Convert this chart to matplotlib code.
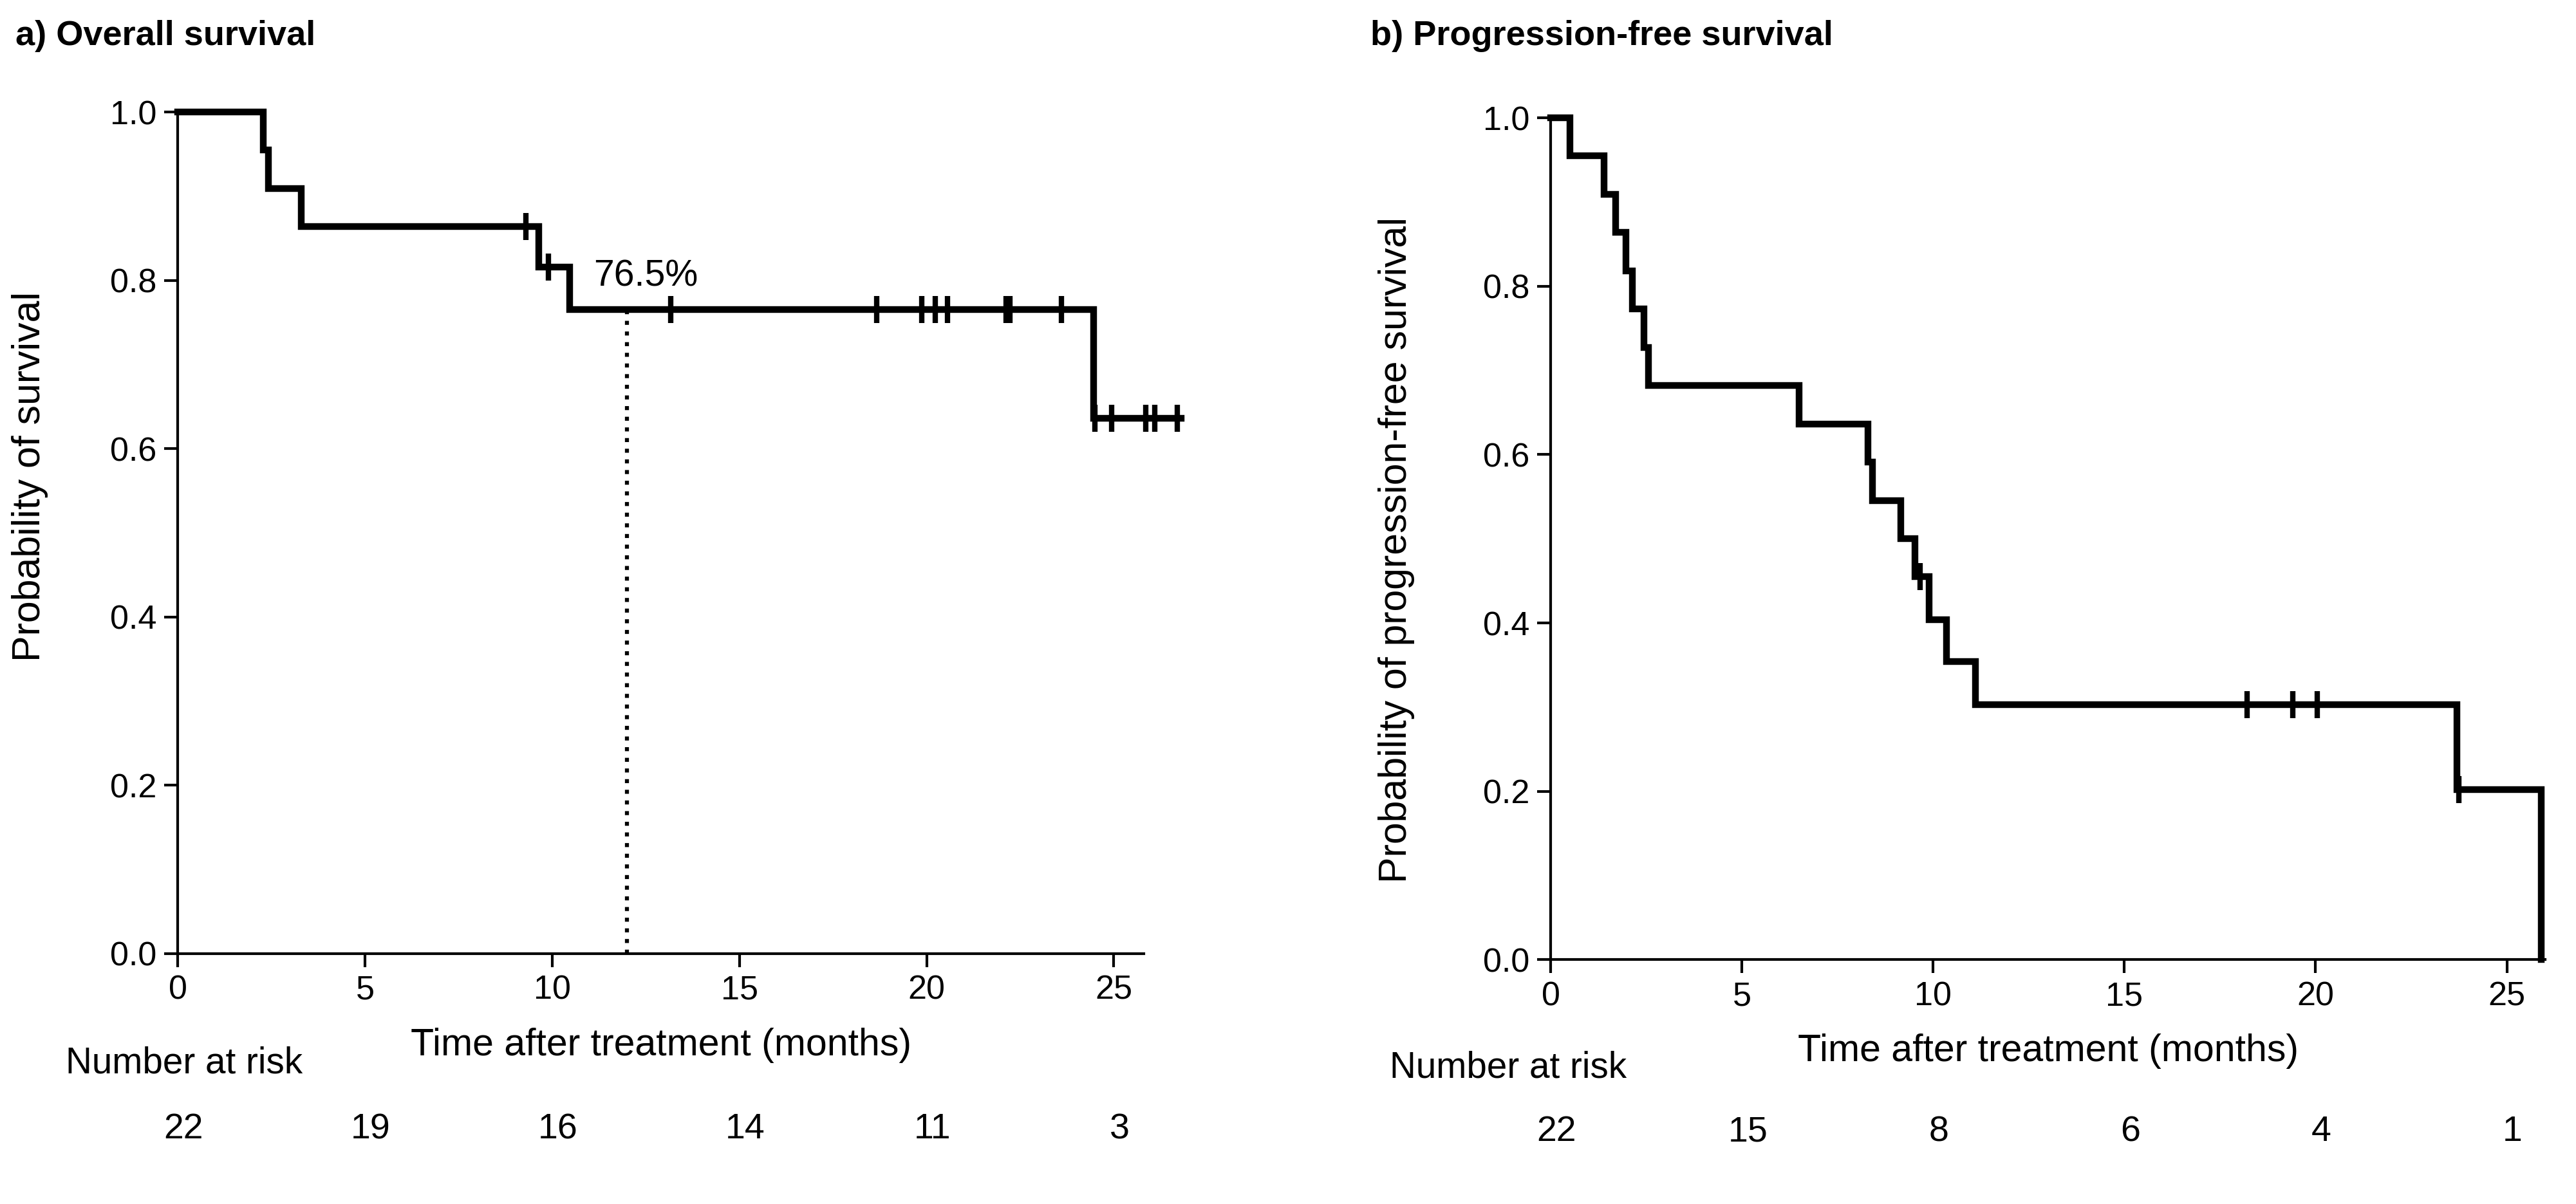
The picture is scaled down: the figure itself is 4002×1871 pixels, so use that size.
import matplotlib
matplotlib.use('Agg')
import matplotlib.pyplot as plt
import numpy as np

plt.rcParams['font.family'] = ['Liberation Sans', 'DejaVu Sans']

# a) overall survival (step times / survival levels read off the picture)
os_time = [0, 2.28, 2.42, 3.29, 9.64, 10.46, 24.46, 26.8]
os_surv = [1.0, 0.955, 0.909, 0.864, 0.816, 0.765, 0.636, 0.636]
os_cens = [9.3, 9.9, 13.17, 18.67, 19.87, 20.24, 20.55, 22.13, 22.23, 23.61,
           24.5, 24.95, 25.86, 26.1, 26.7]
os_risk = [22, 19, 16, 14, 11, 3]

# b) progression-free survival
pfs_time = [0, 0.5, 1.4, 1.7, 1.97, 2.14, 2.44, 2.56, 6.5, 8.29, 8.42, 9.15,
            9.53, 9.9, 10.34, 11.1, 23.7, 25.9]
pfs_surv = [1.0, 0.955, 0.909, 0.864, 0.818, 0.773, 0.727, 0.682, 0.636, 0.591,
            0.545, 0.5, 0.455, 0.404, 0.354, 0.303, 0.202, 0.0]
pfs_cens = [9.65, 18.2, 19.4, 20.05, 23.75]
pfs_risk = [22, 15, 8, 6, 4, 1]

risk_times = [0, 5, 10, 15, 20, 25]

fig = plt.figure(figsize=(16.008, 7.484), dpi=250)
ax1 = fig.add_axes([0.069, 0.208, 0.375, 0.699])
ax2 = fig.add_axes([0.602, 0.203, 0.386, 0.699])


def surv_at(t, times, surv):
    i = np.searchsorted(times, t, side='right') - 1
    return surv[i]


def km_panel(ax, times, surv, cens, xmax, ylabel, ylab_x, ylab_y):
    ax.step(times, surv, where='post', color='k', lw=3.0, clip_on=False,
            solid_joinstyle='miter')
    cy = [surv_at(t, times, surv) for t in cens]
    ax.plot(cens, cy, ls='none', marker='|', ms=12, mew=2.4, color='k',
            clip_on=False)
    ax.set_xlim(0, xmax)
    ax.set_ylim(0, 1)
    ax.set_xticks([0, 5, 10, 15, 20, 25])
    ax.set_yticks([0, 0.2, 0.4, 0.6, 0.8, 1.0])
    ax.set_yticklabels(['0.0', '0.2', '0.4', '0.6', '0.8', '1.0'])
    for s in ['top', 'right']:
        ax.spines[s].set_visible(False)
    for s in ['left', 'bottom']:
        ax.spines[s].set_linewidth(1.2)
    ax.tick_params(direction='out', length=6, width=1.2, labelsize=15)
    ax.set_xlabel('Time after treatment (months)', fontsize=17)
    ax.xaxis.set_label_coords(0.5, -0.088)
    ax.set_ylabel(ylabel, fontsize=17.5)
    ax.yaxis.set_label_coords(ylab_x, ylab_y)


km_panel(ax1, os_time, os_surv, os_cens, 25.8, 'Probability of survival',
         -0.134, 0.567)
km_panel(ax2, pfs_time, pfs_surv, pfs_cens, 26.0,
         'Probability of progression-free survival', -0.137, 0.487)

# 12-month landmark
ax1.plot([12, 12], [0, 0.765], color='k', ls=':', lw=1.8)
ax1.text(12.5, 0.805, '76.5%', fontsize=16.5, ha='center', va='center')

fig.text(0.006, 0.97, 'a) Overall survival', fontsize=15.6, fontweight='bold',
         ha='left', va='center')
fig.text(0.532, 0.97, 'b) Progression-free survival', fontsize=15.6,
         fontweight='bold', ha='left', va='center')

for ax, risk, xlab, ylab, yrow in [(ax1, os_risk, 0.0255, 0.117, -0.209),
                                   (ax2, pfs_risk, 0.5395, 0.113, -0.205)]:
    fig.text(xlab, ylab, 'Number at risk', fontsize=16.3, ha='left',
             va='center')
    for t, n in zip(risk_times, risk):
        ax.text(t + 0.15, yrow, str(n), fontsize=16, ha='center', va='center',
                transform=ax.get_xaxis_transform())

fig.savefig('out.png', dpi=250)
